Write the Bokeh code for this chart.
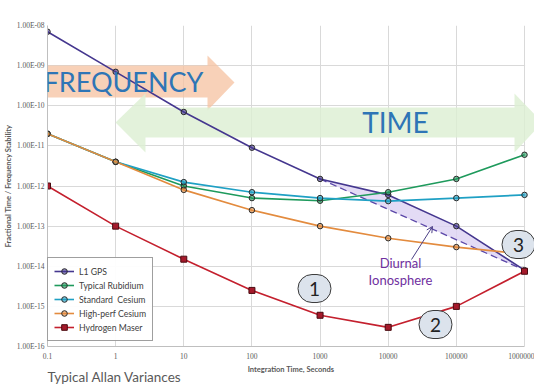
from bokeh.plotting import figure
from bokeh.models import FixedTicker, Label, PolyAnnotation, Arrow, OpenHead, BoxAnnotation
from bokeh.embed import file_html
from bokeh.resources import INLINE

# ---------------- data ----------------
tau = [0.1, 1, 10, 100, 1000, 10000, 100000, 1000000]
gps = [7e-9, 7e-10, 7e-11, 9e-12, 1.5e-12, 6e-13, 1e-13, 8e-15]
rubidium = [2e-11, 4e-12, 1e-12, 5e-13, 4.3e-13, 7e-13, 1.5e-12, 6e-12]
std_cesium = [2e-11, 4e-12, 1.25e-12, 7e-13, 5e-13, 4.2e-13, 5e-13, 6e-13]
hp_cesium = [2e-11, 4e-12, 8e-13, 2.5e-13, 1e-13, 5e-14, 3e-14, 2e-14]
maser = [1e-12, 1e-13, 1.5e-14, 2.5e-15, 6e-16, 3e-16, 1e-15, 7.5e-15]

series_names = ["L1 GPS", "Typical Rubidium", "Standard  Cesium", "High-perf Cesium", "Hydrogen Maser"]
series_colors = ["#45378F", "#1E9A5C", "#1FA0C4", "#E38B3E", "#C4202E"]

x_ticks = [0.1, 1, 10, 100, 1000, 10000, 100000, 1000000]
x_labels = ["0.1", "1", "10", "100", "1000", "10000", "100000", "1000000"]
y_ticks = [1e-16, 1e-15, 1e-14, 1e-13, 1e-12, 1e-11, 1e-10, 1e-09, 1e-08]
y_labels = ["1.00E-16", "1.00E-15", "1.00E-14", "1.00E-13", "1.00E-12",
            "1.00E-11", "1.00E-10", "1.00E-09", "1.00E-08"]

FONT = "Lato"
TICK_FONT = "Liberation Serif"
X_END = 10 ** (6 + 10 / 68.143)  # white room right of the 1e6 gridline

p = figure(frame_width=487, frame_height=321, x_axis_type="log", y_axis_type="log",
           x_range=(x_ticks[0], X_END), y_range=(y_ticks[0], y_ticks[-1]),
           output_backend="svg", toolbar_location=None,
           min_border_left=37, min_border_right=0, min_border_top=25,
           min_border_bottom=38, outline_line_color=None)


def L(v):
    return 10 ** v

# hide grid lines beyond the last x tick
p.add_layout(BoxAnnotation(left=x_ticks[-1] * 1.02, fill_color="white", fill_alpha=1,
                           line_alpha=0, level="underlay"))

# big background arrows (log-space geometry)
freq_arrow = PolyAnnotation(
    xs=[L(-1.660), L(-1.249), L(-1.249), L(1.348), L(1.348), L(1.744), L(1.348), L(1.348), L(-1.249), L(-1.249)],
    ys=[L(-9.421), L(-8.748), L(-8.997), L(-8.997), L(-8.748), L(-9.421), L(-10.118), L(-9.794), L(-9.794), L(-10.118)],
    fill_color="#F6C1A0", fill_alpha=0.75, line_alpha=0, level="underlay")
time_arrow = PolyAnnotation(
    xs=[L(-0.002), L(0.438), L(0.438), L(5.853), L(5.853), L(6.264), L(5.853), L(5.853), L(0.438), L(0.438)],
    ys=[L(-10.417), L(-9.695), L(-10.044), L(-10.044), L(-9.695), L(-10.417), L(-11.165), L(-10.791), L(-10.791), L(-11.165)],
    fill_color="#DCEFD2", fill_alpha=0.8, line_alpha=0, level="underlay")
p.add_layout(freq_arrow)
p.add_layout(time_arrow)

p.add_layout(Label(x=L(0.115), y=L(-9.396), text="FREQUENCY", text_align="center",
                   text_baseline="middle", text_font=FONT, text_font_size="27px",
                   text_color="#2E75B6"))
p.add_layout(Label(x=L(4.107), y=L(-10.417), text="TIME", text_align="center",
                   text_baseline="middle", text_font=FONT, text_font_size="28px",
                   text_color="#2E75B6"))

# diurnal ionosphere shading
p.patch(tau[4:], gps[4:], fill_color="#DCD2F3", fill_alpha=0.8, line_alpha=0)
p.line([tau[4], tau[7]], [gps[4], gps[7]], line_color="#5B47A8", line_width=1.3,
       line_dash="7 4")

# series
all_series = [gps, rubidium, std_cesium, hp_cesium, maser]
for vals, name, col in zip(all_series, series_names, series_colors):
    p.line(tau, vals, line_color=col, line_width=1.6, legend_label=name)
    if name == "Hydrogen Maser":
        p.scatter(tau, vals, marker="square", size=6, fill_color="#A51A2B",
                  line_color="#4A0A10", line_width=1, legend_label=name)
    else:
        p.scatter(tau, vals, marker="circle", size=5.5, fill_color=col, fill_alpha=0.6,
                  line_color="#2B2B2B", line_width=1, legend_label=name)

# annotations
p.add_layout(Label(x=L(4.180), y=L(-13.907), text="Diurnal", text_align="center",
                   text_baseline="middle", text_font=FONT, text_font_size="13px",
                   text_color="#7030A0"))
p.add_layout(Label(x=L(4.180), y=L(-14.355), text="Ionosphere", text_align="center",
                   text_baseline="middle", text_font=FONT, text_font_size="13px",
                   text_color="#7030A0"))
p.add_layout(Arrow(x_start=L(4.342), y_start=L(-13.832), x_end=L(4.650), y_end=L(-13.009),
                   line_color="#4B3F86", line_width=1,
                   end=OpenHead(size=6, line_color="#4B3F86", line_width=1)))

for txt, lx, ly in [("1", 2.918, -14.555), ("2", 4.694, -15.452), ("3", 5.912, -13.458)]:
    p.add_layout(Label(x=L(lx), y=L(ly), text=txt, text_align="center", text_baseline="middle",
                       text_font=FONT, text_font_size="19px", text_color="#222222",
                       background_fill_color="#DCE3EC", border_line_color="#3A3A3A",
                       border_line_width=1, border_radius=15, padding=(11, 7)))

# axes
p.xaxis.ticker = FixedTicker(ticks=x_ticks)
p.yaxis.ticker = FixedTicker(ticks=y_ticks)
p.xaxis.major_label_overrides = dict(zip(x_ticks, x_labels))
p.yaxis.major_label_overrides = dict(zip(y_ticks, y_labels))
p.xaxis.bounds = (x_ticks[0], x_ticks[-1])
for ax in (p.xaxis, p.yaxis):
    ax.major_tick_line_color = None
    ax.minor_tick_line_color = None
    ax.major_tick_out = 0
    ax.major_tick_in = 0
    ax.minor_tick_out = 0
    ax.minor_tick_in = 0
    ax.axis_line_color = "#BFBFBF"
    ax.major_label_text_font = TICK_FONT
    ax.major_label_text_font_size = "7.5px"
    ax.major_label_text_color = "#595959"
    ax.axis_label_text_font = FONT
    ax.axis_label_text_font_size = "7.5px"
    ax.axis_label_text_font_style = "bold"
    ax.axis_label_text_color = "#595959"
p.xaxis.major_label_standoff = 6
p.xaxis.axis_label_standoff = 3
p.yaxis.major_label_standoff = 3
p.yaxis.axis_label_standoff = 1
p.xaxis.axis_label = "Integration Time, Seconds"
p.yaxis.axis_label = "Fractional Time / Frequency Stability"
p.xgrid.grid_line_color = "#D9D9D9"
p.ygrid.grid_line_color = "#D9D9D9"

# caption beside the x-axis title (positioned in data space below the frame)
p.add_layout(Label(x=x_ticks[0], y=L(-16.765), text_baseline="alphabetic",
                   text="Typical Allan Variances", text_font=FONT, text_font_size="13.5px",
                   text_color="#595959"), "above")

lg = p.legend[0]
lg.location = (0, 5)
lg.label_text_font = FONT
lg.label_text_font_size = "8.7px"
lg.label_text_color = "#404040"
lg.border_line_color = "#404040"
lg.border_line_width = 1
lg.padding = 6
lg.spacing = 0
lg.margin = 0
lg.glyph_width = 20
lg.glyph_height = 14
lg.label_height = 14
lg.label_standoff = 5

open("out.html", "w").write(file_html(p, INLINE))
